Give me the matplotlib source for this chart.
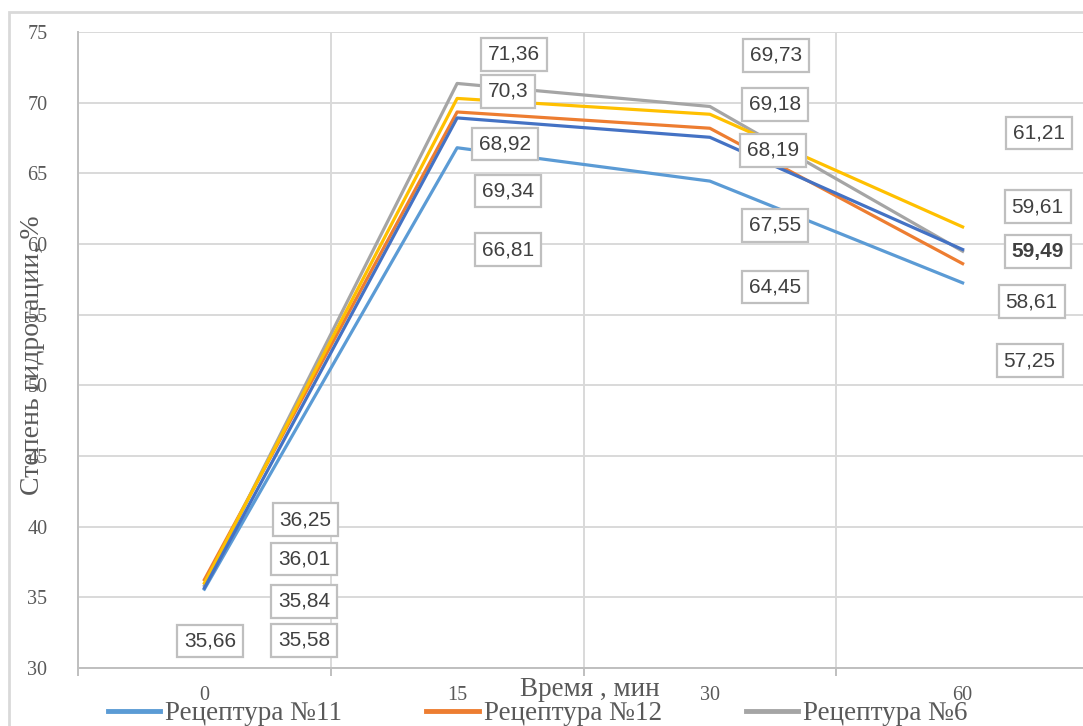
import matplotlib
matplotlib.use("Agg")
import matplotlib.pyplot as plt
from matplotlib.patches import Rectangle

# ---------------------------------------------------------
# Data (степень гидратации, %)
# ---------------------------------------------------------
times = ["0", "15", "30", "60"]

names = ["Рецептура №11", "Рецептура №12", "Рецептура №6",
         "Рецептура №7", "Рецептура №10"]
colors = ["#5B9BD5", "#ED7D31", "#A5A5A5", "#FFC000", "#4472C4"]

r11 = [35.58, 66.81, 64.45, 57.25]
r12 = [36.25, 69.34, 68.19, 58.61]
r6 = [35.84, 71.36, 69.73, 59.49]
r7 = [36.01, 70.30, 69.18, 61.21]
r10 = [35.66, 68.92, 67.55, 59.61]
series = [r11, r12, r6, r7, r10]

# label offsets from their point, in pixels (dx, dy)
offsets = [
    [(100, -51), (51, -102), (65, -106), (67, -78)],
    [(101, 60), (51, -79), (63, -22), (69, -38)],
    [(100, -16), (57, 29), (66, 51), (75, 0)],
    [(100, 24), (51, 7), (65, 10), (76, 94)],
    [(6, -53), (48, -26), (65, -88), (75, 43)],
]

W, H = 1083, 726
fig = plt.figure(figsize=(W / 100, H / 100), dpi=100)

# outer chart frame (cut by the image edge)
fig.patches.append(Rectangle((9 / W, -0.2), 2.0, 1.2 - 12 / H,
                             transform=fig.transFigure, fill=False,
                             ec="#d9d9d9", lw=2, zorder=0))

ax = fig.add_axes([78 / W, 1 - 668 / H, (1089 - 78) / W, 636 / H])

x = list(range(len(times)))
lines = []
for vals, col in zip(series, colors):
    ln, = ax.plot(x, vals, color=col, lw=2.3, solid_joinstyle="round")
    lines.append(ln)

for k, (vals, offs) in enumerate(zip(series, offsets)):
    for i, (v, (dx, dy)) in enumerate(zip(vals, offs)):
        txt = f"{v:.2f}".rstrip("0").rstrip(".").replace(".", ",")
        ax.annotate(txt, (i, v), xytext=(dx, dy), textcoords="offset pixels",
                    ha="center", va="center", fontsize=15,
                    family="Liberation Sans", color="#404040",
                    fontweight="bold" if (k == 2 and i == 3) else "normal",
                    bbox=dict(boxstyle="square,pad=0.33", fc="white",
                              ec="#bfbfbf", lw=1.6),
                    annotation_clip=False, zorder=5)

ax.set_xlim(-0.5, 3.5)
ax.set_ylim(30, 75)
ax.set_yticks(range(30, 76, 5))
ax.set_xticks(x)
ax.set_xticklabels(times)
ax.set_xticks([-0.5, 0.5, 1.5, 2.5, 3.5], minor=True)

ax.grid(False)
ax.yaxis.grid(True, color="#d9d9d9", lw=1.4)
ax.xaxis.grid(True, which="minor", color="#d9d9d9", lw=1.4)
ax.set_axisbelow(True)

for s in ["top", "right"]:
    ax.spines[s].set_visible(False)
for s in ["left", "bottom"]:
    ax.spines[s].set_color("#bfbfbf")
    ax.spines[s].set_linewidth(1.4)

ax.tick_params(axis="y", length=0, pad=22, labelsize=14.5,
               labelcolor="#595959", labelfontfamily="Liberation Serif")
ax.tick_params(axis="x", which="major", length=0, pad=13, labelsize=14.5,
               labelcolor="#595959", labelfontfamily="Liberation Serif")
ax.tick_params(axis="x", which="minor", length=6, width=1.4,
               color="#bfbfbf", direction="out")

fig.text(590 / W, 1 - 690 / H, "Время , мин", ha="center", va="center",
         fontsize=19.5, family="Liberation Serif", color="#595959")
fig.text(33 / W, 1 - 355 / H, "Степень гидротации, %", rotation=90,
         ha="center", va="center", fontsize=20,
         family="Liberation Serif", color="#595959")

# legend: 3 per row (matplotlib fills by column, so reorder);
# the second row falls below the picture edge
order = [0, 3, 1, 4, 2]
handles = [plt.Line2D([], [], color=colors[i], lw=3.5) for i in order]
labels = [names[i] for i in order]
fig.legend(handles, labels, loc="upper left",
           bbox_to_anchor=(108 / W, 1 - 701 / H), ncol=3, frameon=False,
           borderpad=0, borderaxespad=0, handlelength=1.93,
           handletextpad=0.19, columnspacing=3.1,
           prop={"family": "Liberation Serif", "size": 19.5},
           labelcolor="#595959")

fig.savefig("out.png", dpi=100)
